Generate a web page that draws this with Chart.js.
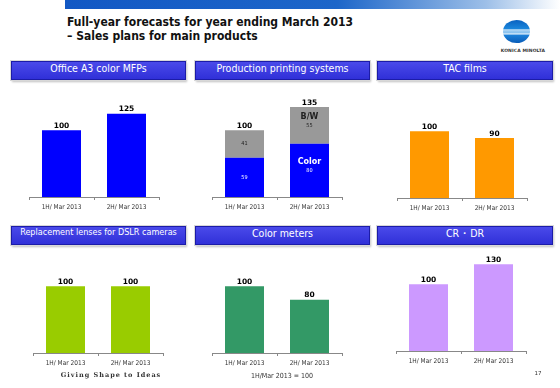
<!DOCTYPE html>
<html>
<head>
<meta charset="utf-8">
<script src="https://cdn.jsdelivr.net/npm/chart.js@4"></script>
<style>
  body { margin: 0; background: #fff; }
  #slide { position: relative; width: 560px; height: 388px; overflow: hidden; font-family: 'DejaVu Sans', sans-serif; }
  .abs { position: absolute; }
  #topbar { left: 65px; top: 0; width: 495px; height: 9px;
    background: linear-gradient(to right, #1258c4 0%, #1d66c9 55%, #9dbfe8 85%, #ffffff 100%); }
  #title { left: 67px; top: 15px; font: bold 12px 'DejaVu Sans Condensed', 'DejaVu Sans', sans-serif; line-height: 14px; color: #111; }
  #logo { left: 503px; top: 20px; width: 27px; height: 23px; border-radius: 50%;
    background: linear-gradient(to bottom, #0a62c0 0%, #1a86dc 38%, #ffffff 44%, #2a90e0 48%, #ffffff 52%, #3a9ae4 56%, #ffffff 60%, #1a80d8 66%, #0a5cb8 100%); }
  #logotext { left: 499px; top: 48px; width: 48px; text-align: center; font: bold 4.5px 'DejaVu Sans', sans-serif; color: #333; letter-spacing: 0.1px; }
  .box { height: 19px; line-height: 17px; text-align: center; color: #fff; white-space: nowrap;
    font: 10.5px 'DejaVu Sans Condensed', 'DejaVu Sans', sans-serif;
    background: linear-gradient(to bottom, #4a4aea, #3030d8);
    border: 1px solid #1c1ca8; box-sizing: border-box;
    box-shadow: 0 0 0 1px #d8d8d8, 1px 2px 2px rgba(0,0,0,0.25); }
  .note { color: #333; white-space: nowrap; transform: translateX(-50%); }
</style>
</head>
<body>
<div id="slide">
  <div id="topbar" class="abs"></div>
  <div id="title" class="abs">Full-year forecasts for year ending March 2013<br>&#8211; Sales plans for main products</div>
  <div id="logo" class="abs"></div>
  <div id="logotext" class="abs">KONICA MINOLTA</div>

  <div class="abs box" style="left:11px; top:61px; width:175px;">Office A3 color MFPs</div>
  <div class="abs box" style="left:195px; top:61px; width:175px;">Production printing systems</div>
  <div class="abs box" style="left:377px; top:61px; width:176px;">TAC films</div>
  <div class="abs box" style="left:11px; top:226px; width:175px; font-size:9px;">Replacement lenses for DSLR cameras</div>
  <div class="abs box" style="left:195px; top:226px; width:175px;">Color meters</div>
  <div class="abs box" style="left:377px; top:226px; width:176px;">CR&#12539;DR</div>

  <canvas id="c1" class="abs"></canvas>
  <canvas id="c2" class="abs"></canvas>
  <canvas id="c3" class="abs"></canvas>
  <canvas id="c4" class="abs"></canvas>
  <canvas id="c5" class="abs"></canvas>
  <canvas id="c6" class="abs"></canvas>

  <div class="abs note" style="left:111px; top:371px; font: bold 6.5px 'DejaVu Serif', serif; letter-spacing: 1px;">Giving Shape to Ideas</div>
  <div class="abs note" style="left:282px; top:372px; font: 7px 'DejaVu Sans Condensed', 'DejaVu Sans', sans-serif;">1H/Mar 2013 = 100</div>
  <div class="abs note" style="left:538px; top:370px; font: 5.5px 'DejaVu Sans', sans-serif;">17</div>
</div>
<script>
const periods = ['1H/ Mar 2013', '2H/ Mar 2013']
const officeA3 = [100, 125]
const prodColor = [59, 80]
const prodBW = [41, 55]
const prodTotal = [100, 135]
const tacFilms = [100, 90]
const lenses = [100, 100]
const colorMeters = [100, 80]
const crdr = [100, 130]

const yMax = 150
const fontSmall = "'DejaVu Sans Condensed', 'DejaVu Sans', sans-serif"

// puts totals above the bars and values (and names) inside stacked segments
function barText(totals, segColors) {
  return {
    id: 'barText',
    afterDatasetsDraw(chart) {
      const ctx = chart.ctx
      const sets = chart.data.datasets
      ctx.save()
      ctx.textAlign = 'center'
      if (segColors) {
        sets.forEach((ds, d) => {
          const meta = chart.getDatasetMeta(d)
          meta.data.forEach((bar, i) => {
            const mid = (bar.y + bar.base) / 2
            ctx.fillStyle = segColors[d]
            ctx.textBaseline = 'middle'
            ctx.font = '5.5px ' + fontSmall
            ctx.fillText(ds.data[i], bar.x, mid)
            if (i === 1) {
              ctx.font = "bold 8px 'DejaVu Sans', sans-serif"
              ctx.fillText(ds.label, bar.x, mid - 8)
            }
          })
        })
      }
      const top = chart.getDatasetMeta(sets.length - 1)
      ctx.fillStyle = '#000'
      ctx.textBaseline = 'bottom'
      ctx.font = "bold 7.5px 'DejaVu Sans', sans-serif"
      totals.forEach((v, i) => {
        ctx.fillText(v, top.data[i].x, top.data[i].y - 0.5)
      })
      ctx.restore()
    }
  }
}

function panel(id, left, baseline, datasets, totals, segColors) {
  const canvas = document.getElementById(id)
  const padTop = 14, plotH = 100, axisH = 20
  canvas.width = 134
  canvas.height = padTop + plotH + axisH
  canvas.style.left = (left - 2) + 'px'
  canvas.style.top = (baseline - plotH - padTop) + 'px'
  const stacked = datasets.length > 1
  return new Chart(canvas, {
    type: 'bar',
    data: { labels: periods, datasets: datasets },
    options: {
      responsive: false,
      animation: false,
      layout: { padding: { top: padTop, left: 2, right: 2, bottom: 0 } },
      datasets: { bar: { barPercentage: 0.6, categoryPercentage: 1 } },
      plugins: { legend: { display: false }, tooltip: { enabled: false } },
      scales: {
        x: {
          stacked: stacked,
          grid: { offset: true, drawOnChartArea: false, tickLength: 3, color: '#888' },
          border: { color: '#888' },
          ticks: { font: { family: fontSmall, size: 6.5 }, color: '#333', padding: 3, maxRotation: 0 },
          afterFit: s => { s.height = axisH }
        },
        y: { display: false, stacked: stacked, min: 0, max: yMax }
      }
    },
    plugins: [barText(totals, segColors)]
  })
}

panel('c1', 29, 197, [{ data: officeA3, backgroundColor: '#0000ff' }], officeA3)
panel('c2', 212, 197, [
  { label: 'Color', data: prodColor, backgroundColor: '#0000ff' },
  { label: 'B/W', data: prodBW, backgroundColor: '#999999' }
], prodTotal, ['#ffffff', '#222222'])
panel('c3', 397, 198, [{ data: tacFilms, backgroundColor: '#ff9900' }], tacFilms)
panel('c4', 33, 353, [{ data: lenses, backgroundColor: '#99cc00' }], lenses)
panel('c5', 212, 353, [{ data: colorMeters, backgroundColor: '#339966' }], colorMeters)
panel('c6', 396, 351, [{ data: crdr, backgroundColor: '#cc99ff' }], crdr)
</script>
</body>
</html>
